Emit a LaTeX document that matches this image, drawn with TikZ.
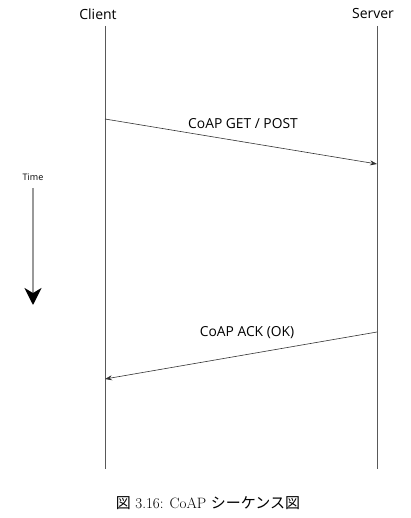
\documentclass[tikz,border=0pt]{standalone}
\usepackage{fontspec}
\newfontfamily\labelfont{Open Sans}
\newfontfamily\jpfont{Noto Sans CJK JP}
\usetikzlibrary{arrows.meta}
\begin{document}
\begin{tikzpicture}[x=1pt,y=-1pt,
  actor/.style={font=\labelfont\fontsize{14}{16}\selectfont, inner sep=0pt},
  msglabel/.style={font=\labelfont\fontsize{13.8}{16}\selectfont, inner sep=0pt},
  lifeline/.style={draw=black!65, line width=1pt},
  msg/.style={draw=black!80, line width=0.6pt, -{Stealth[length=7pt,width=5pt]}},
  timearrow/.style={draw=black!40, line width=1.8pt, -{Stealth[black,length=17pt,width=17pt,inset=5pt]}},
  timelabel/.style={font=\labelfont\fontsize{9}{10}\selectfont, inner sep=0pt},
  caption/.style={font=\fontsize{15}{17}\selectfont, inner sep=0pt}]
\useasboundingbox[fill=white] (0,0) rectangle (411,518);
% actors
\node[actor] (cl) at (98,14) {Client};
\node[actor] (sv) at (373,14) {Server};
\coordinate (clTop) at (105,26);
\coordinate (clBot) at (105,469);
\coordinate (svTop) at (377,26);
\coordinate (svBot) at (377,469);
\draw[lifeline] (clTop) -- (clBot);
\draw[lifeline] (svTop) -- (svBot);
% messages
\coordinate (m1s) at (105,119);
\coordinate (m1e) at (377,164);
\coordinate (m2s) at (377,332);
\coordinate (m2e) at (105,379);
\draw[msg] (m1s) -- (m1e);
\draw[msg] (m2s) -- (m2e);
\node[msglabel] (l1) at (243,124) {CoAP GET / POST};
\node[msglabel] (l2) at (247,333) {CoAP ACK (OK)};
% time
\node[timelabel] (tl) at (33,177) {Time};
\coordinate (tTop) at (33,188);
\coordinate (tBot) at (33,305);
\draw[timearrow] (tTop) -- (tBot);
% caption
\node[caption] (cap) at (208,503) {{\jpfont 図} 3.16: CoAP {\jpfont シーケンス図}};
\end{tikzpicture}
\end{document}
